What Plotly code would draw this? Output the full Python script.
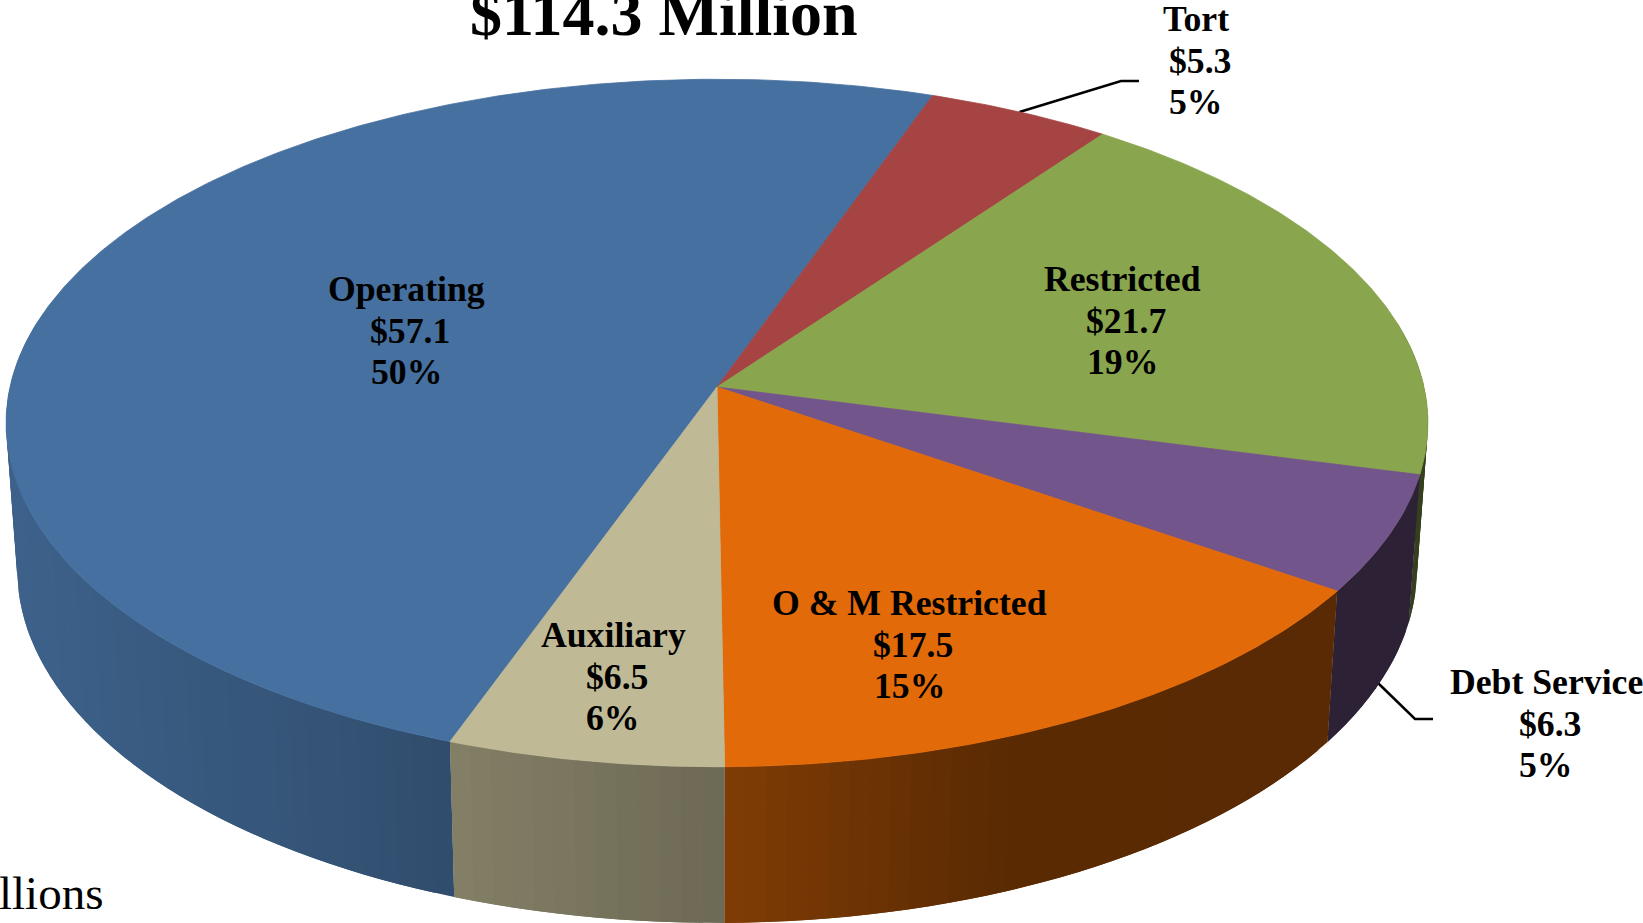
import numpy as np
import plotly.graph_objects as go

# ---- data ----
categories = ["Operating", "Tort", "Restricted", "Debt Service", "O & M Restricted", "Auxiliary"]
values = [57.1, 5.3, 21.7, 6.3, 17.5, 6.5]
percents = [50, 5, 19, 5, 15, 6]
title_text = "$114.3 Million"
corner_text = "llions"

# ---- styles ----
colors = ["#46709F", "#A54443", "#89A54E", "#72558A", "#E26A08", "#BFB995"]
label_anchor = {  # centre of the label block's lines: x, y of first line
    "Operating": (406, 289), "Tort": (1196, 19), "Restricted": (1122, 279),
    "Debt Service": (1546, 682), "O & M Restricted": (909, 603), "Auxiliary": (613, 635),
}
LINE_GAP = 41.6
NUDGE = 4
START = 250.1
W, H = 1643, 923
# projection of the pie's circular top and bottom faces
TOP = dict(a=707.0, b=340.0, k=0.1047, x0=717.0, y0=387.0)
BOT = dict(a=696.0, b=350.0, k=0.1047, x0=717.0, y0=532.0)
SHADE_X = [17, 447, 717, 1000, 1430]
SHADE_F = [0.87, 0.69, 0.57, 0.40, 0.39]


def proj(theta_deg, p):
    t = np.radians(theta_deg)
    X, Y = np.cos(t), np.sin(t)
    d = 1 + p["k"] * Y
    return p["x0"] + p["a"] * X / d, p["y0"] - p["b"] * Y / d


def hex_scale(c, f):
    r, g, b = int(c[1:3], 16), int(c[3:5], 16), int(c[5:7], 16)
    return f"rgb({r*f:.0f},{g*f:.0f},{b*f:.0f})"


def poly(xs, ys, color, lw=0.8):
    return go.Scatter(x=list(xs) + [xs[0]], y=list(ys) + [ys[0]], mode="lines", fill="toself",
                      fillcolor=color, line=dict(color=color, width=lw),
                      hoverinfo="skip", showlegend=False)


fig = go.Figure()

# leader lines, under the pie
leaders = [([1019.5, 1121, 1139], [112, 81, 81]), ([1378, 1415, 1433], [683, 719, 719])]
for lx, ly in leaders:
    fig.add_trace(go.Scatter(x=lx, y=ly, mode="lines", line=dict(color="black", width=2.5),
                             hoverinfo="skip", showlegend=False))

# slice angle spans, clockwise from START
spans = []
cur = START
total = sum(values)
for v in values:
    nxt = cur - v / total * 360
    spans.append((cur, nxt))
    cur = nxt

# side walls: thin overlapping strips shaded by their horizontal position.
for (a0, a1), col in zip(spans, colors):
    n = max(2, int((a0 - a1) / 1.5))
    edges = np.linspace(a0, a1, n + 1)
    for i in range(n):
        e0, e1 = edges[i], edges[i + 1]
        mid = (e0 + e1) / 2
        if np.sin(np.radians(mid)) > 0.2:
            continue
        e_over = edges[min(i + 2, n)]
        tx, ty = proj(np.linspace(e0, e_over, 5), TOP)
        bx, by = proj(np.linspace(e_over, e0, 5), BOT)
        fx, _ = proj(np.array([mid]), TOP)
        gx, _ = proj(np.array([mid]), BOT)
        f = float(np.interp((fx[0] + gx[0]) / 2, SHADE_X, SHADE_F))
        fig.add_trace(poly(np.r_[tx, bx], np.r_[ty, by], hex_scale(col, f), lw=0))

# top faces
for (a0, a1), col in zip(spans, colors):
    th = np.linspace(a0, a1, max(3, int(a0 - a1) * 2))
    x, y = proj(th, TOP)
    fig.add_trace(poly(np.r_[TOP["x0"], x], np.r_[TOP["y0"], y], col))

# labels
font = dict(family="Liberation Serif", color="black", size=35.7)
annotations = []
for name, val, pct in zip(categories, values, percents):
    cx, cy = label_anchor[name]
    lines = [(name, cx), (f"${val}", cx + NUDGE), (f"{pct}%", cx)]
    for i, (txt, lx) in enumerate(lines):
        annotations.append(dict(x=lx, y=cy + i * LINE_GAP, text=f"<b>{txt}</b>", showarrow=False,
                                xref="x", yref="y", xanchor="center", yanchor="middle", font=font))
annotations.append(dict(x=664, y=13, text=f"<b>{title_text}</b>", showarrow=False, xref="x", yref="y",
                        xanchor="center", yanchor="middle",
                        font=dict(family="Liberation Serif", color="black", size=64)))
annotations.append(dict(x=105, y=893, text=corner_text, showarrow=False, xref="x", yref="y",
                        xanchor="right", yanchor="middle",
                        font=dict(family="Liberation Serif", color="black", size=47)))

fig.update_layout(
    width=W, height=H, margin=dict(l=0, r=0, t=0, b=0), paper_bgcolor="white", plot_bgcolor="white",
    xaxis=dict(range=[0, W], visible=False, fixedrange=True),
    yaxis=dict(range=[H, 0], visible=False, fixedrange=True),
    annotations=annotations, showlegend=False,
)
fig.write_html("out.html", post_script="document.body.style.margin='0';document.body.style.overflow='hidden';",
               config={"displayModeBar": False})
